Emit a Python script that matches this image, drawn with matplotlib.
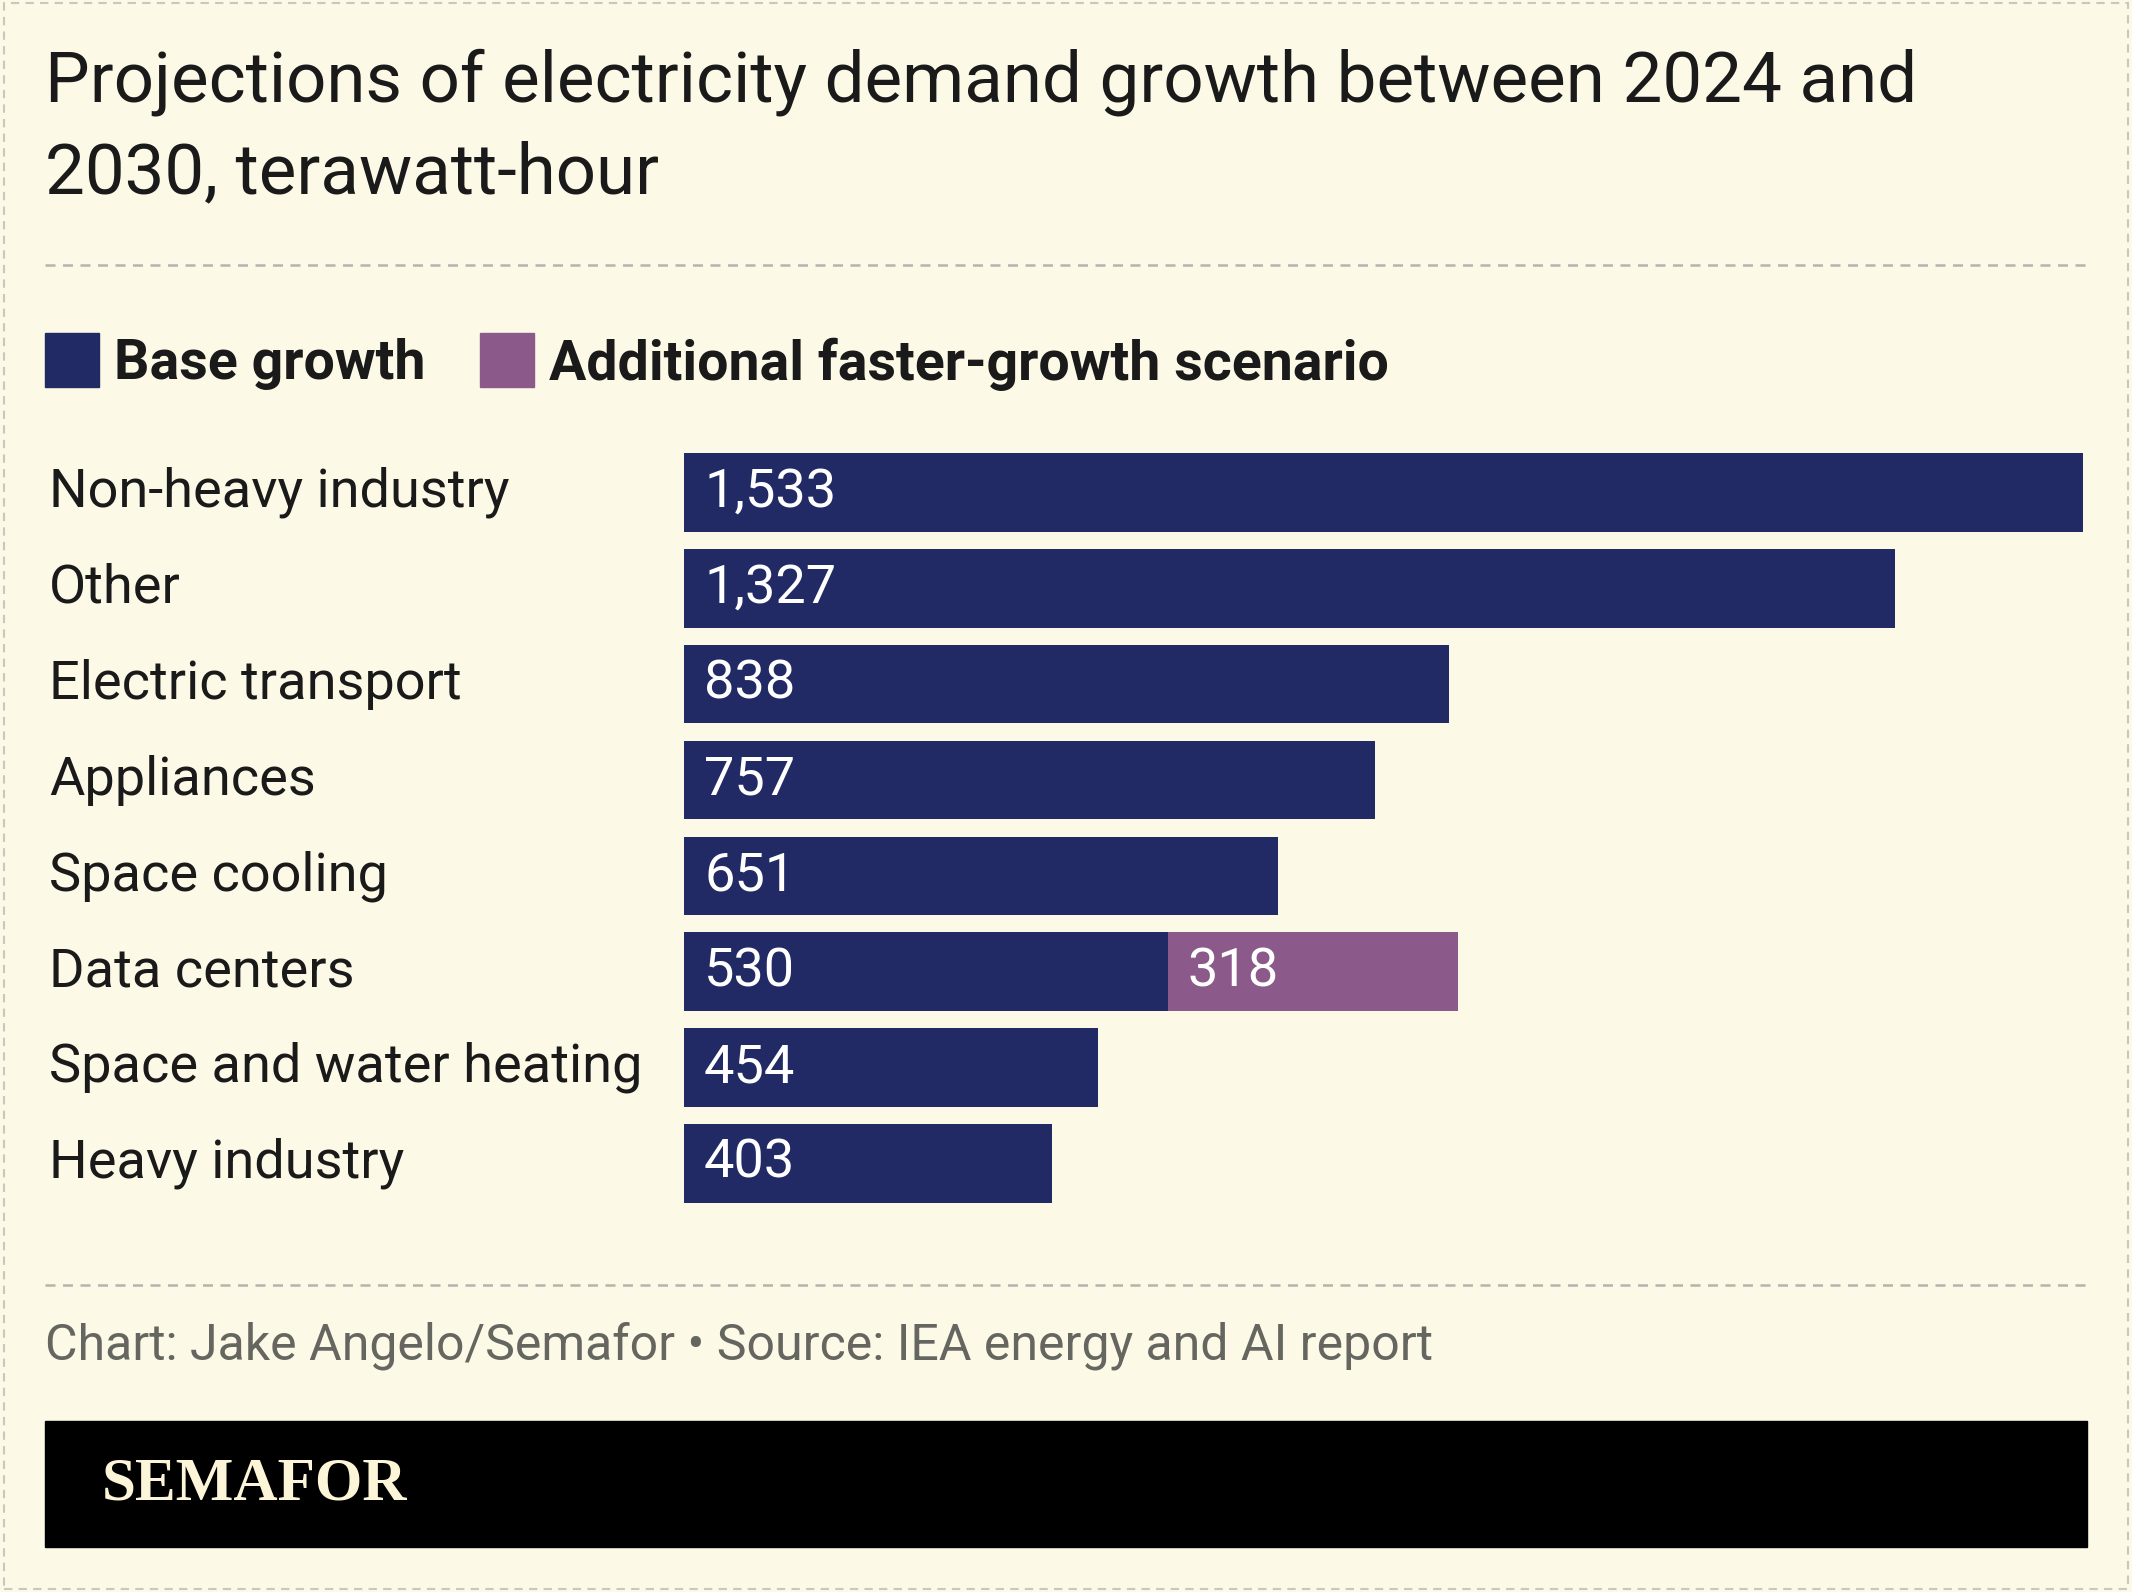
import matplotlib
matplotlib.use("Agg")
import matplotlib.pyplot as plt
from matplotlib import transforms
from matplotlib.patches import Rectangle

categories = ["Non-heavy industry", "Other", "Electric transport", "Appliances",
              "Space cooling", "Data centers", "Space and water heating", "Heavy industry"]
base = [1533, 1327, 838, 757, 651, 530, 454, 403]
extra = [0, 0, 0, 0, 0, 318, 0, 0]

BG = "#fcf9e6"
NAVY = "#222a66"
PINK = "#8c5a8a"
W, H = 1568, 1171  # layout reference units

fig = plt.figure(figsize=(21.32, 15.92), dpi=100, facecolor=BG)
fx = lambda x: x / W
fy = lambda y: 1 - y / H

# outer dashed border
fig.add_artist(Rectangle((0.002, 0.002), 0.996, 0.996, transform=fig.transFigure,
                         fill=False, ec="#c8c8c0", ls=(0, (4, 3)), lw=1.5))

fig.text(fx(33), fy(75), "Projections of electricity demand growth between 2024 and",
         fontsize=51, color="#1a1a1a", family="Roboto", va="baseline")
fig.text(fx(33), fy(142), "2030, terawatt-hour",
         fontsize=51, color="#1a1a1a", family="Roboto", va="baseline")

for y in (195, 945):
    fig.add_artist(plt.Line2D([fx(33), fx(1535)], [fy(y), fy(y)], transform=fig.transFigure,
                              color="#b5b5b0", ls=(0, (4, 3)), lw=1.8))

# legend
fig.add_artist(Rectangle((fx(33), fy(285)), fx(40), 40 / H, transform=fig.transFigure, color=NAVY))
fig.text(fx(84), fy(268), "Base growth", fontsize=40, weight="bold", color="#1a1a1a",
         family="Roboto", va="center")
fig.add_artist(Rectangle((fx(353), fy(285)), fx(40), 40 / H, transform=fig.transFigure, color=PINK))
fig.text(fx(404), fy(268), "Additional faster-growth scenario", fontsize=40, weight="bold",
         color="#1a1a1a", family="Roboto", va="center")

ax = fig.add_axes([fx(503), fy(891), fx(1532) - fx(503), 564 / H])
ax.set_facecolor(BG)
ypos = list(range(len(categories)))
ax.barh(ypos, base, height=0.82, color=NAVY)
ax.barh(ypos, extra, left=base, height=0.82, color=PINK)
ax.set_xlim(0, 1533)
ax.set_ylim(len(categories) - 0.5, -0.5)
ax.axis("off")

tr = transforms.blended_transform_factory(fig.transFigure, ax.transData)
for i, (c, b, e) in enumerate(zip(categories, base, extra)):
    ax.text(fx(36), i, c, transform=tr, fontsize=39, color="#1a1a1a", family="Roboto",
            va="center")
    ax.text(22, i, f"{b:,}", fontsize=39, color="white", family="Roboto", va="center")
    if e:
        ax.text(b + 22, i, f"{e:,}", fontsize=39, color="white", family="Roboto", va="center")

fig.text(fx(33), fy(990), "Chart: Jake Angelo/Semafor \u2022 Source: IEA energy and AI report",
         fontsize=36, color="#666660", family="Roboto", va="center")

fig.add_artist(Rectangle((fx(33), fy(1138)), fx(1535) - fx(33), 93 / H,
                         transform=fig.transFigure, color="black"))
fig.text(fx(75), fy(1092), "SEMAFOR", fontsize=44, weight="bold", color="#fcf5d8",
         family="Liberation Serif", va="center")

fig.savefig("out.png", dpi=100, facecolor=BG)
